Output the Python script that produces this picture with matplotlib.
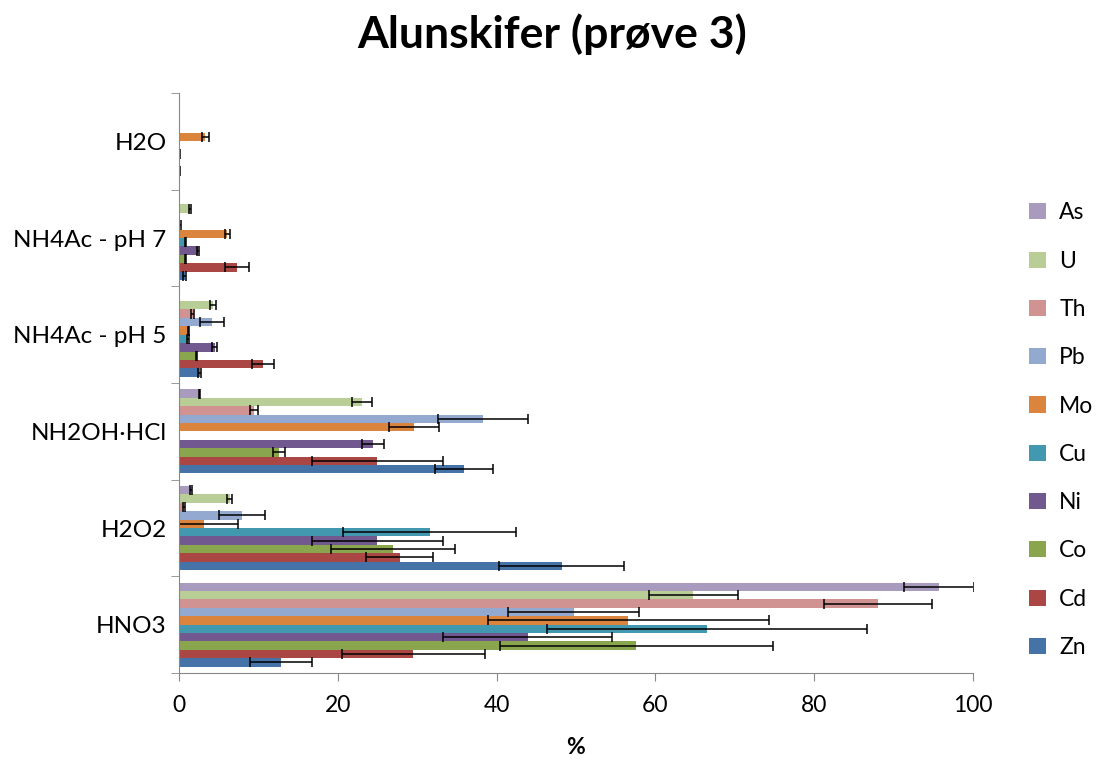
import numpy as np
import matplotlib
matplotlib.use("Agg")
from matplotlib import pyplot as plt

plt.rcParams['font.family'] = ['Lato', 'DejaVu Sans']

# categories bottom -> top
categories = ["HNO3", "H2O2", "NH2OH·HCl", "NH4Ac - pH 5", "NH4Ac - pH 7", "H2O"]
metals = ["Zn", "Cd", "Co", "Ni", "Cu", "Mo", "Pb", "Th", "U", "As"]
colors = ["#4572A7", "#AA4643", "#89A54E", "#71588F", "#4198AF",
          "#DB843D", "#93A9CF", "#D19392", "#B9CD96", "#A99BBD"]

# values per metal, in category order (HNO3, H2O2, NH2OH·HCl, pH5, pH7, H2O)
Zn = [12.9, 48.2, 35.9, 2.6, 0.7, 0.0]
Cd = [29.5, 27.8, 25.0, 10.6, 7.3, 0.05]
Co = [57.6, 27.0, 12.6, 2.2, 0.8, 0.0]
Ni = [43.9, 25.0, 24.4, 4.5, 2.4, 0.05]
Cu = [66.5, 31.6, 0.0, 1.1, 0.8, 0.0]
Mo = [56.6, 3.1, 29.6, 1.2, 6.1, 3.3]
Pb = [49.7, 7.9, 38.3, 4.2, 0.1, 0.0]
Th = [88.1, 0.6, 9.4, 1.7, 0.0, 0.0]
U = [64.8, 6.4, 23.0, 4.3, 1.4, 0.0]
As = [95.7, 1.5, 2.6, 0.0, 0.0, 0.0]

Zn_err = [3.9, 7.9, 3.6, 0.2, 0.15, 0.0]
Cd_err = [9.0, 4.2, 8.2, 1.35, 1.55, 0.05]
Co_err = [17.2, 7.8, 0.8, 0.1, 0.1, 0.0]
Ni_err = [10.6, 8.3, 1.4, 0.3, 0.1, 0.05]
Cu_err = [20.2, 10.9, 0.0, 0.1, 0.1, 0.0]
Mo_err = [17.7, 4.3, 3.1, 0.1, 0.3, 0.45]
Pb_err = [8.2, 2.9, 5.7, 1.5, 0.1, 0.0]
Th_err = [6.8, 0.15, 0.5, 0.2, 0.0, 0.0]
U_err = [5.6, 0.3, 1.25, 0.35, 0.1, 0.0]
As_err = [4.4, 0.1, 0.1, 0.0, 0.0, 0.0]

values = [Zn, Cd, Co, Ni, Cu, Mo, Pb, Th, U, As]
errors = [Zn_err, Cd_err, Co_err, Ni_err, Cu_err, Mo_err, Pb_err, Th_err, U_err, As_err]

fig = plt.figure(figsize=(11.05, 7.6), dpi=100)
ax = fig.add_axes([0.162, 0.1145, 0.7185, 0.763])

y = np.arange(len(categories))
h = 0.087
handles = []
for i, m in enumerate(metals):
    pos = y + (i - 4.5) * h
    b = ax.barh(pos, values[i], height=h, color=colors[i], label=m)
    ax.errorbar(values[i], pos, xerr=errors[i], fmt='none', ecolor='black',
                elinewidth=1.1, capsize=3.8, capthick=1.1)
    handles.append(b)

fs = 16.5
ax.set_xlim(0, 100)
ax.set_ylim(-0.5, 5.5)
ax.set_yticks(y)
ax.set_yticklabels(categories, fontsize=17.5)
ax.set_yticks(np.arange(-0.5, 6, 1), minor=True)
ax.tick_params(axis='y', which='major', length=0, pad=9)
ax.tick_params(axis='y', which='minor', length=6, color='#888888', direction='out')
ax.set_xticks(range(0, 101, 20))
ax.tick_params(axis='x', length=6, color='#888888', labelsize=fs, pad=10)
for s in ['top', 'right']:
    ax.spines[s].set_visible(False)
for s in ['left', 'bottom']:
    ax.spines[s].set_color('#888888')

ax.set_xlabel("%", fontsize=fs, fontweight='bold', labelpad=15)
fig.suptitle("Alunskifer (prøve 3)", fontsize=32, fontweight='bold', y=0.982)

ax.legend(handles[::-1], metals[::-1], loc='center left',
          bbox_to_anchor=(0.913, 0.434), bbox_transform=fig.transFigure,
          frameon=False, fontsize=fs, labelspacing=1.19,
          handlelength=0.7, handleheight=0.7, handletextpad=0.6)

plt.savefig("out.png", dpi=100)
